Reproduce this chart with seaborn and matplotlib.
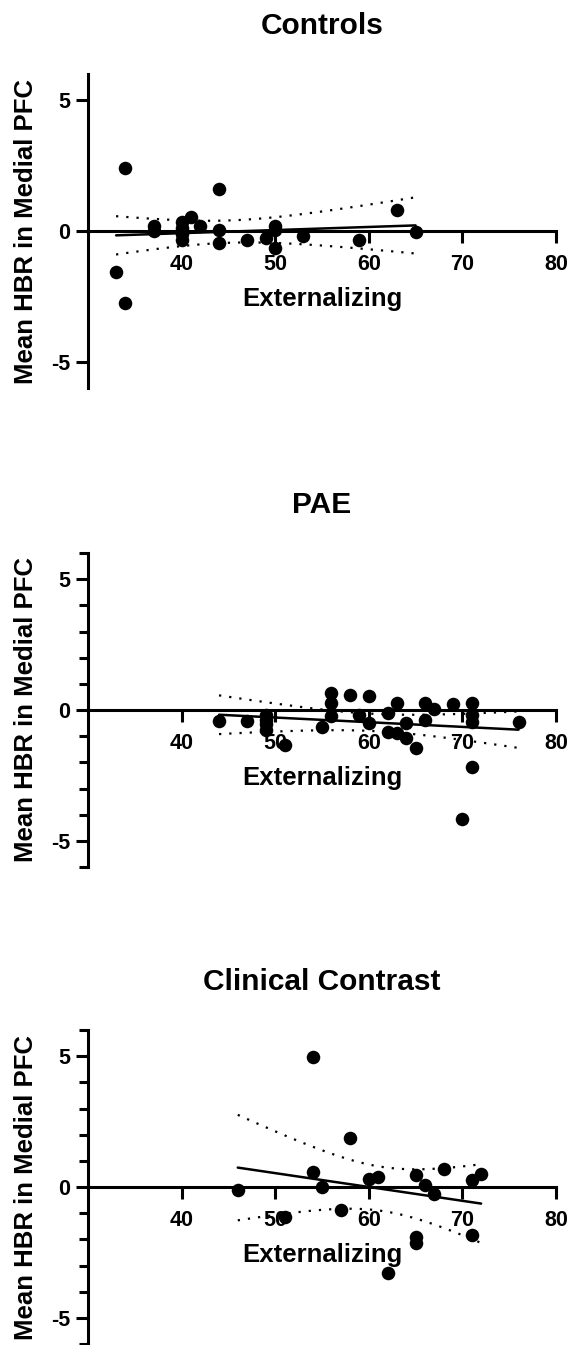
import numpy as np
import pandas as pd
import seaborn as sns
from matplotlib import pyplot as plt
from matplotlib.ticker import MultipleLocator

# values (Externalizing T-score vs mean HBR)
ctrl_x = [33, 34, 34, 37, 37, 40, 40, 40, 40, 41, 42, 44, 44, 44, 47, 49, 50, 50, 50, 53, 59, 63, 65]
ctrl_y = [-1.55, 2.4, -2.75, 0.2, 0.0, 0.35, 0.1, -0.1, -0.35, 0.55, 0.2, 1.6, 0.05, -0.45,
          -0.35, -0.25, 0.2, 0.05, -0.65, -0.2, -0.35, 0.82, -0.05]

pae_x = [44, 47, 49, 49, 49, 49, 51, 55, 56, 56, 56, 58, 59, 60, 60, 62, 62, 63, 63, 64, 64,
         65, 66, 66, 67, 69, 70, 71, 71, 71, 71, 76]
pae_y = [-0.42, -0.42, -0.2, -0.4, -0.55, -0.75, -1.34, -0.66, 0.66, 0.26, -0.23, 0.57, -0.19,
         0.55, -0.5, -0.13, -0.83, 0.26, -0.89, -0.5, -1.07, -1.45, 0.26, -0.38, 0.03, 0.23,
         -4.15, 0.26, -0.19, -0.45, -2.19, -0.45]

clin_x = [46, 51, 54, 54, 55, 57, 58, 60, 61, 62, 65, 65, 65, 66, 67, 68, 71, 71, 72]
clin_y = [-0.13, -1.14, 4.97, 0.56, -0.01, -0.89, 1.87, 0.3, 0.38, -3.27, 0.47, -1.9, -2.13,
          0.09, -0.27, 0.7, 0.28, -1.85, 0.51]

titles = ["Controls", "PAE", "Clinical Contrast"]
x_ticks = [40, 50, 60, 70, 80]
y_ticks = [-5, 0, 5]

sns.set_style("ticks")
plt.rcParams["font.family"] = ["Liberation Sans", "DejaVu Sans"]
plt.rcParams["font.weight"] = "bold"
plt.rcParams["axes.unicode_minus"] = False
for key in ("text.color", "axes.labelcolor", "xtick.color", "ytick.color", "axes.edgecolor"):
    plt.rcParams[key] = "black"


def t975(df):
    # Cornish-Fisher expansion of the t quantile (no scipy here)
    z = 1.959964
    g1 = (z**3 + z) / 4
    g2 = (5 * z**5 + 16 * z**3 + 3 * z) / 96
    g3 = (3 * z**7 + 19 * z**5 + 17 * z**3 - 15 * z) / 384
    return z + g1 / df + g2 / df**2 + g3 / df**3


def ci_band(x, y, grid):
    x = np.asarray(x, float)
    y = np.asarray(y, float)
    n = len(x)
    b1, b0 = np.polyfit(x, y, 1)
    s = np.sqrt(np.sum((y - (b0 + b1 * x)) ** 2) / (n - 2))
    se = s * np.sqrt(1 / n + (grid - x.mean()) ** 2 / np.sum((x - x.mean()) ** 2))
    fit = b0 + b1 * grid
    return fit - t975(n - 2) * se, fit + t975(n - 2) * se


W, H = 576, 1345
fig = plt.figure(figsize=(W / 100, H / 100), dpi=100)

# axes boxes in pixels: left, right, top, bottom
boxes = [(88, 556, 74, 388), (88, 556, 553, 867), (88, 556, 1030, 1344)]
groups = [(ctrl_x, ctrl_y), (pae_x, pae_y), (clin_x, clin_y)]

for i, ((l, r, t, b), (gx, gy), title) in enumerate(zip(boxes, groups, titles)):
    ax = fig.add_axes([l / W, 1 - b / H, (r - l) / W, (b - t) / H])
    df = pd.DataFrame({"Externalizing": gx, "HBR": gy})
    sns.regplot(data=df, x="Externalizing", y="HBR", ax=ax, ci=None, color="black",
                scatter_kws={"s": 95, "alpha": 1, "linewidths": 0, "zorder": 4},
                line_kws={"lw": 1.8, "zorder": 3})

    grid = np.linspace(min(gx), max(gx), 100)
    lo, hi = ci_band(gx, gy, grid)
    for band in (lo, hi):
        ax.plot(grid, band, color="black", lw=1.6, linestyle=(0, (1, 3.6)), zorder=3)

    ax.set_xlim(30, 80)
    ax.set_ylim(-6, 6)
    ax.set_xticks(x_ticks)
    ax.set_yticks(y_ticks)
    if i > 0:
        ax.yaxis.set_minor_locator(MultipleLocator(1))

    for side in ("top", "right"):
        ax.spines[side].set_visible(False)
    ax.spines["bottom"].set_position(("data", 0))
    for side in ("left", "bottom"):
        ax.spines[side].set_linewidth(2.2)
        ax.spines[side].set_zorder(2)

    ax.tick_params(axis="both", which="major", length=8.6, width=2.2, labelsize=15.5)
    ax.tick_params(axis="x", pad=8)
    ax.tick_params(axis="y", pad=4)
    ax.tick_params(axis="y", which="minor", length=6.5, width=2.2)
    for lab in ax.get_xticklabels() + ax.get_yticklabels():
        lab.set_fontweight("bold")

    ax.set_xlabel("Externalizing", fontsize=18.5, fontweight="bold")
    ax.xaxis.label.set_va("baseline")
    ax.xaxis.set_label_coords(55, -2.86, transform=ax.transData)
    ax.set_ylabel("Mean HBR in Medial PFC", fontsize=18.5, fontweight="bold")
    ax.yaxis.set_label_coords(-0.106, 0.5)
    ax.set_title(title, fontsize=21.5, fontweight="bold", pad=29)
    ax.set_facecolor("white")

fig.savefig("out.png", dpi=100, facecolor="white")
